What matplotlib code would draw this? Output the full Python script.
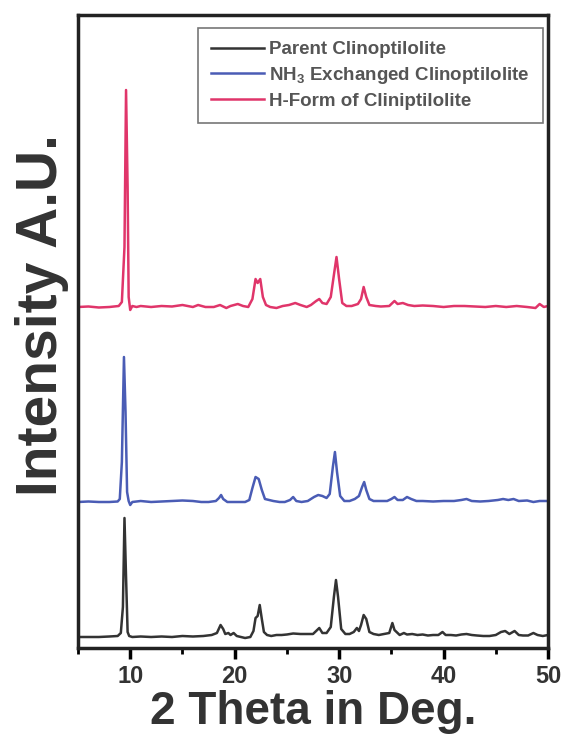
import matplotlib
matplotlib.use("Agg")
import matplotlib.pyplot as plt
from matplotlib.ticker import MultipleLocator

plt.rcParams['font.family'] = ['Liberation Sans', 'DejaVu Sans']
plt.rcParams['mathtext.fontset'] = 'custom'
plt.rcParams['mathtext.rm'] = 'Liberation Sans'
plt.rcParams['mathtext.bf'] = 'Liberation Sans:bold'

# ---------------- data ----------------
labels = ["Parent Clinoptilolite",
          r"NH$_\mathbf{3}$ Exchanged Clinoptilolite",
          "H-Form of Cliniptilolite"]
offsets = [11, 146, 341]

parent_2theta = [5.0, 6, 7, 8, 8.8, 9.1, 9.3, 9.45, 9.6, 9.75, 9.9, 10.2, 11, 12, 13, 14, 15, 16, 17, 17.8,
                 18.3, 18.65, 18.9, 19.1, 19.4, 19.6, 19.9, 20.2, 20.6, 21.0, 21.5, 21.8, 22.0, 22.2, 22.4,
                 22.6, 22.8, 23.1, 23.5, 24, 24.5, 25, 25.6, 26.3, 27, 27.5, 27.9, 28.1, 28.4, 28.8, 29.2,
                 29.5, 29.7, 29.9, 30.2, 30.6, 31.0, 31.4, 31.7, 31.9, 32.1, 32.35, 32.6, 32.9, 33.3, 33.8,
                 34.3, 34.8, 35.1, 35.3, 35.5, 35.8, 36.2, 36.5, 37, 37.5, 38, 38.5, 39, 39.5, 39.9, 40.2,
                 40.7, 41.2, 41.7, 42.2, 42.7, 43.2, 43.8, 44.4, 45, 45.5, 45.9, 46.3, 46.8, 47.2, 47.6,
                 48.1, 48.6, 49, 49.5, 50]
parent_int = [0, 0, 0, 0.5, 1, 4, 30, 119, 60, 5, 1, 0, 0.5, 0, 0.5, 0, 1, 0.5, 1, 2,
              4, 12, 8, 3, 4, 2, 4, 1, 0, -1, 0, 6, 19, 21, 32,
              18, 5, 2, 1, 2, 2, 2.5, 3.5, 3, 3, 3, 7, 9, 4, 4, 10,
              40, 57, 40, 8, 3, 3, 5, 9, 6, 12, 22, 18, 5, 3, 2,
              3, 4, 14, 7, 5, 2, 4, 2.5, 3, 2, 2.5, 1.5, 2, 2, 5, 2,
              2, 1.5, 2.5, 3, 2, 1.5, 1, 1, 2, 5, 6, 3, 6, 2, 1.5,
              1.5, 4, 2, 1, 2]

nh4_2theta = [5, 6, 7, 8, 8.8, 9.0, 9.2, 9.4, 9.55, 9.7, 9.85, 10.0, 10.2, 11, 12, 13, 14, 15, 16, 16.8,
              17.5, 18.2, 18.5, 18.7, 18.9, 19.3, 19.8, 20.4, 21.0, 21.4, 21.7, 22.0, 22.3, 22.6, 22.9,
              23.3, 23.7, 24.3, 24.8, 25.3, 25.6, 25.9, 26.4, 27, 27.6, 28.0, 28.4, 28.8, 29.1, 29.4,
              29.6, 29.8, 30.1, 30.5, 31, 31.5, 31.9, 32.2, 32.4, 32.6, 32.9, 33.3, 34, 34.6, 35.0,
              35.3, 35.6, 36.1, 36.5, 36.9, 37.4, 38, 39, 40, 41, 41.7, 42.2, 42.7, 43.5, 44.3, 45.2,
              45.7, 46.2, 46.7, 47.2, 48, 48.6, 49.2, 50]
nh4_int = [0, 0.5, 0, 0, 0.5, 3, 40, 145, 90, 10, 1, -3, 0, 1, 0, 0.5, 1, 1.5, 1, 0,
           0, 1, 4, 7, 3, 0, 0, 0, 0, 2, 14, 25, 23, 12, 3,
           2, 1, 0, 0, 2, 5, 1, 0, 1, 5, 7, 6, 4, 8, 35,
           50, 30, 6, 1, 1, 3, 6, 15, 20, 12, 3, 1, 1, 1, 3,
           5, 2, 2, 5, 3, 1, 1, 0.5, 1, 1, 2, 3, 1, 0.5, 1, 2,
           3, 2, 3, 1, 1.5, 0, 1, 1]

hform_2theta = [5, 6, 7, 8, 8.9, 9.2, 9.45, 9.6, 9.75, 9.85, 10.0, 10.2, 10.6, 11, 12, 13, 14, 15, 15.5,
                16, 16.5, 17.2, 18, 18.6, 19.2, 19.6, 20.3, 20.8, 21.3, 21.7, 22.0, 22.2, 22.45, 22.7,
                23.0, 23.4, 24.0, 24.6, 25.2, 25.8, 26.3, 26.9, 27.3, 27.8, 28.1, 28.4, 28.8, 29.2,
                29.5, 29.75, 30.0, 30.3, 30.7, 31.2, 31.8, 32.1, 32.35, 32.6, 32.9, 33.5, 34, 34.8,
                35.3, 35.6, 36.1, 36.6, 37.2, 38, 39, 40, 41, 42, 43, 44, 45, 46, 47, 48, 48.8, 49.2,
                49.6, 50]
hform_int = [0, 0.5, -0.5, 0, 1, 5, 60, 217, 120, 10, -3, 1, 0, 1, 0, 1, 0.5, 2, 1,
             0, 2, 0, 0, 2, -1, 1, 3, 1, 0, 8, 28, 24, 28, 10,
             2, 0, -1, 1, 2, 4, 2, 0, 2, 6, 8, 4, 3, 10,
             32, 50, 28, 4, 1, 1, 3, 8, 20, 10, 2, 1, 0.5, 1,
             6, 3, 4, 2, 1, 1.5, 1, 0, 1, 1, 0.5, 0, 1, 0, 1, 0, -1, 3,
             0, 1]

x_ticks = [10, 20, 30, 40, 50]
colors = ["#333333", "#4a5cb5", "#e0356a"]

# ---------------- figure ----------------
fig = plt.figure(figsize=(5.63, 7.35), dpi=100)
ax = fig.add_axes([78 / 563, 1 - 648 / 735, 470 / 563, 633 / 735])

series = [(parent_2theta, parent_int), (nh4_2theta, nh4_int), (hform_2theta, hform_int)]
for (xs, ys), off, c, lab in zip(series, offsets, colors, labels):
    ax.plot(xs, [v + off for v in ys], color=c, lw=1.8, label=lab)

ax.set_xlim(5, 50)
ax.set_ylim(0, 633)
ax.set_xticks(x_ticks)
ax.xaxis.set_minor_locator(MultipleLocator(5))
ax.set_yticks([])
ax.tick_params(axis='x', which='major', direction='out', length=8, width=2.5,
               labelsize=17, pad=4)
ax.tick_params(axis='x', which='minor', direction='out', length=4, width=2)
for lab in ax.get_xticklabels():
    lab.set_fontweight('bold')
    lab.set_color('#333333')
for sp in ax.spines.values():
    sp.set_linewidth(2.5)
    sp.set_color('#222222')

ax.set_xlabel("2 Theta in Deg.", fontsize=33, fontweight='bold', color='#333333', labelpad=2)
ax.set_ylabel("Intensity A.U.", fontsize=41, fontweight='bold', color='#333333')
ax.yaxis.set_label_coords(-0.02, 0.526)

leg = ax.legend(loc='upper right', bbox_to_anchor=((543 - 78) / 470, (648 - 28) / 633),
                borderaxespad=0, prop={'weight': 'bold', 'size': 13.5},
                handlelength=2.8, labelspacing=0.35, frameon=True, fancybox=False,
                handletextpad=0.3, borderpad=0.7)
leg.get_frame().set_edgecolor('#555555')
leg.get_frame().set_linewidth(1.2)
for t in leg.get_texts():
    t.set_color('#555555')

fig.savefig("out.png", dpi=100)
